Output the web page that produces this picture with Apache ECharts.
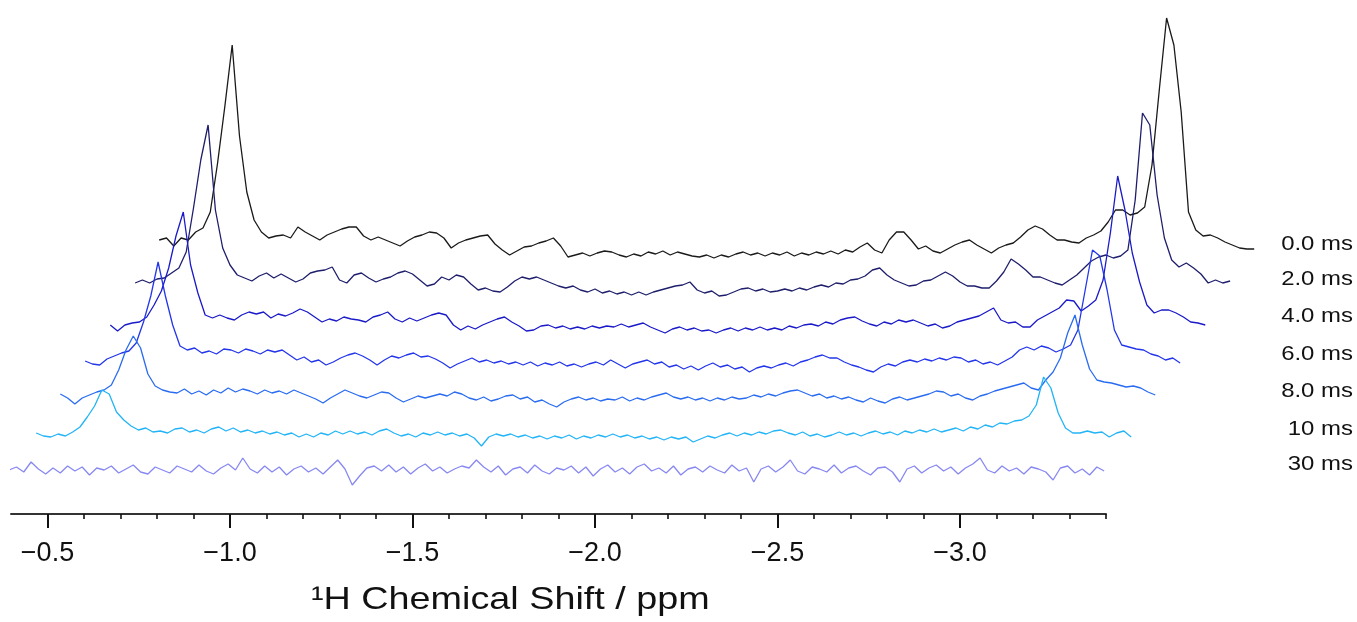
<!DOCTYPE html>
<html><head><meta charset="utf-8">
<script src="https://cdn.jsdelivr.net/npm/echarts@6/dist/echarts.min.js"></script>
<style>html,body{margin:0;padding:0;background:#fff}#c{width:1357px;height:622px}</style>
</head><body><div id="c"></div>
<script>
// ---- data ----
const TRACE_LABELS = ['0.0 ms','2.0 ms','4.0 ms','6.0 ms','8.0 ms','10 ms','30 ms'];
// spectra sampled every 0.02 ppm starting at -0.395 ppm (intensities, arbitrary units)
const PPM_START = -0.395, PPM_STEP = -0.02;
const T_00 = [10,12,4,12,10,18,22,38,87,144,
205,114,58,30,18,12,14,15,12,23,
18,14,10,15,18,21,23,23,14,10,
13,10,7,4,9,13,15,18,17,12,
2,7,10,12,14,15,6,0,-5,-1,
3,4,7,9,12,4,-7,-5,-3,-6,
-3,-1,-2,-5,-7,-4,-6,-2,-4,-1,
-5,-2,-4,-6,-7,-5,-8,-5,-7,-4,
-2,-5,-3,-6,-3,-5,-2,-6,-3,-5,
-2,-4,-1,-4,0,-2,3,7,0,-3,
10,18,18,10,1,4,-1,-3,1,5,
8,10,5,1,-3,2,5,7,13,20,
24,21,15,10,10,8,7,12,15,19,
28,40,40,35,37,43,85,160,232,205,
138,38,20,14,15,12,8,5,2,1,
1];
const T_02 = [2,5,2,6,7,12,17,33,77,125,
160,75,37,20,10,7,4,9,12,7,
11,7,3,6,12,14,15,18,5,2,
10,12,7,3,6,8,12,14,11,5,
-1,1,8,5,10,8,1,-5,-3,-6,
-7,-2,4,8,6,8,5,2,-1,-3,
-1,-5,-7,-4,-8,-6,-9,-7,-10,-7,
-10,-7,-5,-3,-1,0,3,-5,-8,-6,
-11,-10,-7,-4,-3,-6,-4,-7,-6,-4,
-6,-3,-5,-2,0,-2,2,1,5,6,
9,15,17,10,5,2,-1,0,4,5,
9,13,9,3,-1,-1,-3,-3,4,13,
26,21,15,8,8,5,2,0,5,10,
17,24,28,30,27,29,35,85,172,160,
90,47,25,18,22,17,11,2,5,2,
4];
const T_04 = [-3,-9,-3,-1,0,5,17,31,54,86,
110,57,29,7,4,7,4,2,7,10,
8,10,4,8,6,9,13,10,5,0,
3,1,5,3,2,0,5,7,10,3,
0,4,1,4,7,9,7,-3,-8,-4,
-7,-3,0,3,5,0,-4,-9,-8,-4,
-3,-6,-4,-7,-5,-7,-4,-6,-4,-5,
-2,-5,-3,-1,-5,-8,-11,-7,-5,-8,
-6,-9,-8,-11,-8,-6,-9,-6,-8,-5,
-8,-6,-8,-4,-6,-3,-2,-4,0,-2,
2,4,5,1,-2,-4,0,-2,2,0,
2,-1,-4,-2,-6,-4,0,2,4,6,
10,14,2,-1,0,-5,-5,2,6,10,
14,22,21,11,16,22,42,89,146,112,
69,40,17,9,12,12,9,5,0,-1,
-3];
const T_06 = [-1,-4,-5,1,4,7,9,17,38,64,
98,64,35,14,10,12,7,9,6,11,
10,7,11,9,6,10,8,10,5,0,
3,-2,0,-5,-2,2,5,7,4,0,
-5,0,4,2,5,7,3,4,1,-3,
-8,-4,-1,2,-2,0,-3,-1,-4,-2,
-5,-2,-6,-3,-5,-2,-6,-4,-7,-4,
-2,-5,0,-4,-8,-4,-2,0,-4,-2,
-7,-5,-9,-6,-10,-6,-3,-7,-5,-9,
-7,-12,-8,-6,-8,-5,-3,-6,-2,0,
3,5,2,2,-2,-5,-7,-10,-12,-7,
-4,-6,-2,0,-2,1,-1,2,0,3,
2,-2,0,-4,-2,-5,-1,3,10,13,
10,14,12,8,11,15,30,70,110,104,
70,30,15,13,11,10,6,4,0,2,
-3];
const T_08 = [3,-1,-7,-1,2,5,7,12,27,47,
61,49,23,11,7,5,4,8,3,6,
2,7,4,9,5,8,6,3,7,4,
6,3,7,4,1,-2,-6,-1,3,7,
4,1,-1,2,5,4,-1,-5,-2,1,
-1,1,3,1,5,3,-1,-3,0,-4,
-2,1,2,-2,0,-5,-3,-7,-10,-5,
-2,0,-3,-1,-4,-2,-3,0,-4,-1,
-3,0,2,4,0,-2,0,-3,-1,-4,
-1,-3,0,-2,-1,2,0,3,1,4,
6,7,4,1,3,-1,1,-2,0,-3,
-5,-1,-4,-6,-2,0,-3,-1,1,3,
6,5,1,3,-1,-3,1,3,6,8,
10,12,14,9,7,17,25,39,64,82,
52,28,17,15,14,12,10,11,9,5,
2];
const T_10 = [2,-1,-2,1,-1,3,8,18,29,45,
41,23,15,9,5,7,3,4,2,6,
7,3,5,2,6,8,4,7,3,5,
2,4,1,3,0,2,-2,1,-2,2,
0,4,1,4,1,3,0,4,6,2,
-1,1,-2,2,0,3,0,2,-1,1,
-3,-11,-2,1,-1,1,-2,0,-3,-1,
-4,-1,-3,0,-4,-1,-3,0,-2,1,
-2,0,-3,-1,-4,-2,-5,-2,-4,-2,
-7,-4,-1,-3,0,2,-1,2,0,3,
1,4,5,2,0,3,-1,1,-2,0,
3,0,2,-1,2,4,1,3,0,4,
2,5,3,6,3,5,7,4,8,6,
10,8,12,11,14,15,19,30,58,47,
22,7,2,2,4,2,3,-2,2,4,
-2];
const T_30 = [0,3,-2,8,1,-4,2,-3,4,-1,
3,-5,2,0,4,-3,1,5,-2,-4,
3,0,-3,4,1,-2,5,-1,-4,2,
6,0,12,1,-3,4,-2,3,-5,1,
4,-2,2,-4,3,10,1,-15,-6,2,
4,-1,5,-2,3,-4,2,6,-1,3,
-3,1,4,2,10,3,-2,4,-5,1,
3,-3,5,-1,-4,2,0,4,-3,3,
-6,1,5,-2,2,-4,3,6,-1,2,
-3,4,-5,1,3,-2,4,0,-3,5,
-1,2,-12,1,4,-2,3,10,-1,-4,
3,1,-2,5,-3,2,4,-1,-5,2,
3,-2,-12,1,4,-3,2,5,-1,3,
-4,2,6,12,0,-3,4,-1,2,-4,
3,1,-2,-10,2,4,-3,1,-5,3,
-1];
const TRACES = [T_00, T_02, T_04, T_06, T_08, T_10, T_30];
// stacked-plot display offsets
const X_SHIFT = [0.411, 0.345, 0.277, 0.208, 0.140, 0.074, 0];
const Y_SHIFT = [264, 229, 192, 154, 117, 79, 44];
const AXIS_MIN = -3.4, AXIS_MAX = -0.4;
const PLOT_MIN = -3.82;              // hidden drawing axis extends right for the shifted traces
const MAJOR_TICKS = [-0.5, -1.0, -1.5, -2.0, -2.5, -3.0];
const MINOR_TICKS = [-0.6,-0.7,-0.8,-0.9,-1.1,-1.2,-1.3,-1.4,-1.6,-1.7,-1.8,-1.9,
  -2.1,-2.2,-2.3,-2.4,-2.6,-2.7,-2.8,-2.9,-3.1,-3.2,-3.3,-3.4];
const AXIS_TITLE = '\u00B9H Chemical Shift / ppm';

// ---- styles ----
const COLORS = ['#1a1a1a', '#1e1e6c', '#1a1ac8', '#2436ea', '#2a6cf0', '#22b4f6', '#8888f2'];
const FONT = '"Liberation Sans", Arial, sans-serif';
const PX_PER_PPM = 365;

const chart = echarts.init(document.getElementById('c'), null, {renderer: 'canvas'});

const series = TRACES.map((vals, i) => ({
  type: 'line',
  name: TRACE_LABELS[i],
  xAxisIndex: 0, yAxisIndex: 0,
  data: vals.map((v, k) => [PPM_START + k * PPM_STEP - X_SHIFT[i], v + Y_SHIFT[i]]),
  showSymbol: false, symbol: 'none',
  lineStyle: {color: COLORS[i], width: 1.3},
  itemStyle: {color: COLORS[i]},
  animation: false, silent: true
}));
// empty series so the visible axis grid is laid out
series.push({type: 'line', xAxisIndex: 1, yAxisIndex: 1, data: [], silent: true});

const axisWidth = (AXIS_MAX - AXIS_MIN) * PX_PER_PPM;
const plotWidth = (AXIS_MAX - PLOT_MIN) * PX_PER_PPM;

chart.setOption({
  animation: false,
  backgroundColor: '#fff',
  grid: [
    {left: 11, width: plotWidth, top: 0, bottom: 108},
    {left: 11, width: axisWidth, top: 0, bottom: 108}
  ],
  xAxis: [
    {type: 'value', gridIndex: 0, inverse: true, min: PLOT_MIN, max: AXIS_MAX, show: false},
    {
      type: 'value', gridIndex: 1, inverse: true, min: AXIS_MIN, max: AXIS_MAX, position: 'bottom',
      axisLine: {show: true, lineStyle: {color: '#333', width: 2}},
      axisTick: {show: true, customValues: MINOR_TICKS, length: 5, lineStyle: {color: '#111', width: 1.6}},
      axisLabel: {show: false},
      splitLine: {show: false}
    },
    {
      type: 'value', gridIndex: 1, inverse: true, min: AXIS_MIN, max: AXIS_MAX, position: 'bottom', offset: 0,
      axisLine: {show: false},
      axisTick: {show: true, customValues: MAJOR_TICKS, length: 14, lineStyle: {color: '#111', width: 2}},
      axisLabel: {
        show: true, customValues: MAJOR_TICKS, margin: 26,
        fontFamily: FONT, fontSize: 27, color: '#111',
        formatter: v => '\u2212' + Math.abs(v).toFixed(1)
      },
      splitLine: {show: false}
    }
  ],
  yAxis: [
    {type: 'value', gridIndex: 0, min: 0, max: 514, show: false},
    {type: 'value', gridIndex: 1, min: 0, max: 514, show: false}
  ],
  series: series
});

// labels for each trace and axis title
const graphics = TRACE_LABELS.map((t, i) => {
  const y = chart.convertToPixel({yAxisIndex: 0}, Y_SHIFT[i]) - 6;
  return {
    type: 'text', x: 1353, y: y, scaleX: 1.14,
    style: {text: t, fontFamily: FONT, fontSize: 21, fill: '#111', align: 'right', verticalAlign: 'middle'}
  };
});
graphics.push({
  type: 'text', x: 311, y: 600, scaleX: 1.18,
  style: {text: AXIS_TITLE, fontFamily: FONT, fontSize: 32, fill: '#111', align: 'left', verticalAlign: 'middle'}
});
chart.setOption({graphic: graphics});
</script>
</body></html>
